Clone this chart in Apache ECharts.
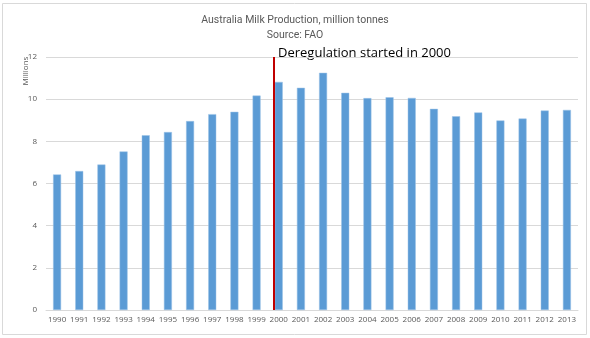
<!DOCTYPE html>
<html><head><meta charset="utf-8">
<script src="https://cdn.jsdelivr.net/npm/echarts@6/dist/echarts.min.js"></script>
<style>html,body{margin:0;padding:0;background:#fff}#c{width:590px;height:338px}</style>
</head><body><div id="c"></div>
<script>
const years = ['1990','1991','1992','1993','1994','1995','1996','1997','1998','1999','2000','2001','2002','2003','2004','2005','2006','2007','2008','2009','2010','2011','2012','2013'];
const production = [6.43,6.59,6.90,7.52,8.29,8.44,8.96,9.29,9.40,10.17,10.82,10.54,11.25,10.30,10.05,10.09,10.06,9.54,9.19,9.37,8.99,9.08,9.46,9.49];
const yTicks = [0,2,4,6,8,10,12];
const deregulationMarker = 1999.78;
const titleText = 'Australia Milk Production, million tonnes';
const subtitleText = 'Source: FAO';
const annotationText = 'Deregulation started in 2000';
const yName = 'Millions';

const chart = echarts.init(document.getElementById('c'), null, {renderer:'canvas'});
chart.setOption({
  animation:false,
  title:{text:titleText+'\n'+subtitleText,left:'center',top:8,
    textStyle:{fontFamily:'Roboto',fontSize:10.5,fontWeight:'normal',color:'#595959',lineHeight:15}},
  grid:{left:46,right:12,top:57,bottom:28},
  xAxis:[{type:'category',data:years,boundaryGap:true,
      axisLine:{lineStyle:{color:'#d9d9d9'}},axisTick:{show:false},
      axisLabel:{interval:0,fontSize:8,color:'#595959',margin:6,fontFamily:'Open Sans'}},
    {type:'value',min:1989.5,max:2013.5,show:false}],
  yAxis:{type:'value',min:yTicks[0],max:yTicks[yTicks.length-1],interval:2,
    axisLine:{show:false},axisTick:{show:false},
    splitLine:{lineStyle:{color:'#d9d9d9'}},
    axisLabel:{fontSize:8,color:'#595959',margin:9,fontFamily:'Open Sans'}},
  series:[
    {type:'bar',data:production,barWidth:8,xAxisIndex:0,
      itemStyle:{color:'#5B9BD5',borderColor:'#9DC3E6',borderWidth:0.5}},
    {type:'line',data:[],xAxisIndex:1,
      markLine:{silent:true,symbol:'none',label:{show:false},
        lineStyle:{color:'#C00000',width:2,type:'solid'},
        data:[{xAxis:deregulationMarker}]}}
  ],
  graphic:[
    {type:'rect',shape:{x:2.5,y:3.5,width:584,height:331},style:{fill:'none',stroke:'#d9d9d9',lineWidth:1},z:-1},
    {type:'text',left:278,top:47,style:{text:annotationText,fontFamily:'Open Sans',fontSize:13,fill:'#000'}},
    {type:'text',x:26,y:71,rotation:Math.PI/2,style:{text:yName,fontFamily:'Open Sans',fontSize:8,fill:'#595959',align:'center',verticalAlign:'middle'}}
  ]
});
</script></body></html>
